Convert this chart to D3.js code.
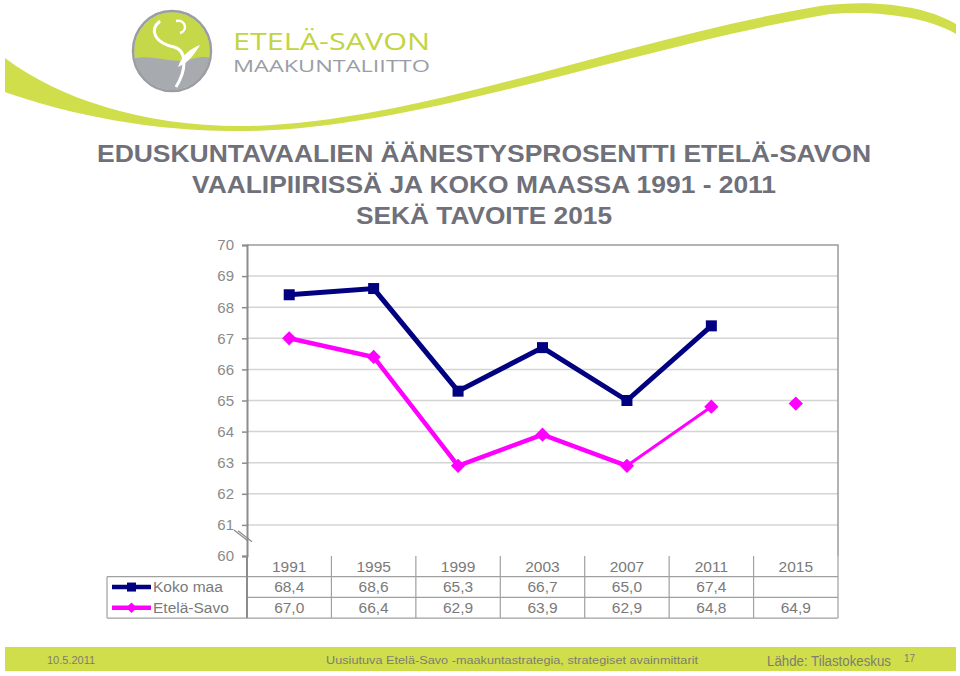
<!DOCTYPE html>
<html>
<head>
<meta charset="utf-8">
<script src="https://cdn.jsdelivr.net/npm/d3@7"></script>
<style>
  body { margin: 0; background: #fff; }
  svg { display: block; font-family: "Liberation Sans", Arial, sans-serif; }
</style>
</head>
<body>
<svg id="slide" width="960" height="676"></svg>
<script>
// data
const years = ["1991", "1995", "1999", "2003", "2007", "2011", "2015"];
const kokoMaa = [68.4, 68.6, 65.3, 66.7, 65.0, 67.4, null];
const etelaSavo = [67.0, 66.4, 62.9, 63.9, 62.9, 64.8, 64.9];
const yTicks = [60, 61, 62, 63, 64, 65, 66, 67, 68, 69, 70];
const seriesNames = ["Koko maa", "Etelä-Savo"];

const fmt = v => v == null ? "" : v.toFixed(1).replace(".", ",");

const green = "#d0de4b";
const svg = d3.select("#slide");

// header swoosh
svg.append("path")
    .attr("d", "M5,58 C60,100 150,128 250,126 C420,122 620,40 820,6 C880,-2 930,8 956,24 L956,34 C930,18 880,10 830,14 C630,48 420,128 250,131 C140,133 50,108 5,92 Z")
    .attr("fill", green);

// logo
const logo = svg.append("g").attr("transform", "translate(172,51)");
logo.append("defs").append("clipPath").attr("id", "oval")
    .append("ellipse").attr("rx", 38).attr("ry", 39);
const inner = logo.append("g").attr("clip-path", "url(#oval)");
inner.append("rect").attr("x", -40).attr("y", -42).attr("width", 80).attr("height", 84).attr("fill", "#c5d84a");
inner.append("path")
    .attr("d", "M-40,8 C-20,2 0,14 20,8 C30,5 36,6 40,8 L40,42 L-40,42 Z")
    .attr("fill", "#a7abb0");
inner.append("path")
    .attr("d", "M-12,-30 C-24,-20 -16,-8 2,-4 C16,0 14,20 4,36")
    .attr("fill", "none").attr("stroke", "#fff").attr("stroke-width", 3);
inner.append("path")
    .attr("d", "M4,-30 C14,-32 16,-20 8,-18")
    .attr("fill", "none").attr("stroke", "#fff").attr("stroke-width", 2.5);
inner.append("path")
    .attr("d", "M6,16 C10,4 18,-2 28,-6 C22,4 16,12 6,16 Z")
    .attr("fill", "#fff");
logo.append("ellipse").attr("rx", 39).attr("ry", 40)
    .attr("fill", "none").attr("stroke", "#9a9ea4").attr("stroke-width", 2.5);

svg.append("text").attr("x", 233).attr("y", 50)
    .attr("font-family", "'Open Sans', sans-serif").attr("font-size", 23)
    .attr("textLength", 197).attr("lengthAdjust", "spacingAndGlyphs")
    .attr("fill", "#c2d43f").text("ETELÄ-SAVON");
svg.append("text").attr("x", 233).attr("y", 72)
    .attr("font-family", "'Open Sans', sans-serif").attr("font-size", 15.5)
    .attr("textLength", 197).attr("lengthAdjust", "spacingAndGlyphs")
    .attr("fill", "#9a9ea4").text("MAAKUNTALIITTO");

// title
const titleLines = [
    { t: "EDUSKUNTAVAALIEN ÄÄNESTYSPROSENTTI ETELÄ-SAVON", y: 162, w: 774 },
    { t: "VAALIPIIRISSÄ JA KOKO MAASSA 1991 - 2011", y: 193, w: 584 },
    { t: "SEKÄ TAVOITE 2015", y: 224, w: 256 }
];
svg.selectAll("text.title").data(titleLines).join("text")
    .attr("class", "title")
    .attr("x", 484).attr("y", d => d.y)
    .attr("text-anchor", "middle")
    .attr("font-size", 24).attr("font-weight", "bold")
    .attr("fill", "#6f7079")
    .attr("textLength", d => d.w).attr("lengthAdjust", "spacingAndGlyphs")
    .text(d => d.t);

// chart
const plot = { left: 247, right: 838, top: 245, bottom: 556 };
const x = d3.scaleBand().domain(years).range([plot.left, plot.right]);
const y = d3.scaleLinear().domain([60, 70]).range([plot.bottom, plot.top]);

const chart = svg.append("g");

chart.selectAll("line.grid").data(yTicks.slice(1, -1)).join("line")
    .attr("class", "grid")
    .attr("x1", plot.left).attr("x2", plot.right)
    .attr("y1", d => y(d)).attr("y2", d => y(d))
    .attr("stroke", "#d4d4d4").attr("stroke-width", 1.5);

// plot frame (top + right)
chart.append("path")
    .attr("d", `M${plot.left},${plot.top}H${plot.right}V${plot.bottom}`)
    .attr("fill", "none").attr("stroke", "#9a9a9a").attr("stroke-width", 1.5);

const yAxis = chart.append("g")
    .attr("transform", `translate(${plot.left},0)`)
    .call(d3.axisLeft(y).tickValues(yTicks).tickSize(5).tickPadding(8).tickFormat(d3.format("d")));
yAxis.select(".domain").attr("stroke", "#8c8c8c").attr("stroke-width", 2);
yAxis.selectAll(".tick line").attr("stroke", "#8c8c8c").attr("stroke-width", 1.5);
yAxis.selectAll(".tick text")
    .attr("font-family", "'Liberation Sans', Arial, sans-serif")
    .attr("font-size", 15).attr("fill", "#8a8a8a");

// axis break marks
[0, 4].forEach(o => {
    chart.append("line")
        .attr("x1", 234 + o).attr("y1", 530 + o * 0.2)
        .attr("x2", 248 + o).attr("y2", 541 + o * 0.2)
        .attr("stroke", "#8c8c8c").attr("stroke-width", 1.2);
});

// lines
const cx = d => x(d) + x.bandwidth() / 2;
const lineGen = d3.line()
    .defined(d => d.v != null)
    .x(d => cx(d.year)).y(d => y(d.v));

const kokoPts = years.map((yr, i) => ({ year: yr, v: kokoMaa[i] }));
const savoPts = years.map((yr, i) => ({ year: yr, v: etelaSavo[i] }));

chart.append("path").datum(kokoPts)
    .attr("d", lineGen).attr("fill", "none")
    .attr("stroke", "#000080").attr("stroke-width", 5).attr("stroke-linejoin", "miter");
chart.selectAll("rect.koko").data(kokoPts.filter(d => d.v != null)).join("rect")
    .attr("class", "koko")
    .attr("x", d => cx(d.year) - 5.5).attr("y", d => y(d.v) - 5.5)
    .attr("width", 11).attr("height", 11).attr("fill", "#000080");

// Etelä-Savo: actual series up to 2007 thick, 2007-2011 thinner, 2015 target alone
chart.append("path").datum(savoPts.slice(0, 5))
    .attr("d", lineGen).attr("fill", "none")
    .attr("stroke", "#ff00ff").attr("stroke-width", 4.5);
chart.append("path").datum(savoPts.slice(4, 6))
    .attr("d", lineGen).attr("fill", "none")
    .attr("stroke", "#ff00ff").attr("stroke-width", 3);
const diamond = d3.symbol().type(d3.symbolDiamond2).size(130);
chart.selectAll("path.savo").data(savoPts).join("path")
    .attr("class", "savo")
    .attr("transform", d => `translate(${cx(d.year)},${y(d.v)})`)
    .attr("d", diamond).attr("fill", "#ff00ff");

// data table
const tbl = { left: 107, top: 556, rowH: 20.7 };
const gridCol = "#a0a0a0";
const table = chart.append("g");
const rows = 3;
// horizontal lines
for (let r = 1; r <= rows; r++) {
    table.append("line")
        .attr("x1", r === 1 ? tbl.left : plot.left).attr("x2", plot.right)
        .attr("y1", tbl.top + r * tbl.rowH).attr("y2", tbl.top + r * tbl.rowH)
        .attr("stroke", gridCol).attr("stroke-width", 1.2);
}
table.select("line:last-child").attr("x1", tbl.left);
table.append("line")
    .attr("x1", tbl.left).attr("x2", tbl.left)
    .attr("y1", tbl.top + tbl.rowH).attr("y2", tbl.top + 3 * tbl.rowH)
    .attr("stroke", gridCol).attr("stroke-width", 1.2);
table.selectAll("line.col").data(years.map(yr => x(yr)).concat([plot.right])).join("line")
    .attr("class", "col")
    .attr("x1", d => d).attr("x2", d => d)
    .attr("y1", tbl.top).attr("y2", tbl.top + 3 * tbl.rowH)
    .attr("stroke", d => d === plot.left ? "#8c8c8c" : gridCol)
    .attr("stroke-width", d => d === plot.left ? 2 : 1.2);

const cellText = "#7a7a7a";
table.selectAll("text.yr").data(years).join("text")
    .attr("class", "yr")
    .attr("x", d => cx(d)).attr("y", tbl.top + 15.5)
    .attr("text-anchor", "middle").attr("font-size", 15.5).attr("fill", cellText)
    .text(d => d);

[kokoMaa, etelaSavo].forEach((vals, r) => {
    const ry = tbl.top + (r + 1) * tbl.rowH;
    table.selectAll(`text.v${r}`).data(vals).join("text")
        .attr("class", `v${r}`)
        .attr("x", (d, i) => cx(years[i])).attr("y", ry + 15.5)
        .attr("text-anchor", "middle").attr("font-size", 15.5).attr("fill", cellText)
        .text(d => fmt(d));
    // legend key
    const col = r === 0 ? "#000080" : "#ff00ff";
    const my = ry + tbl.rowH / 2;
    table.append("line").attr("x1", 112).attr("x2", 151).attr("y1", my).attr("y2", my)
        .attr("stroke", col).attr("stroke-width", 4.5);
    if (r === 0) {
        table.append("rect").attr("x", 127).attr("y", my - 4.5).attr("width", 9).attr("height", 9).attr("fill", col);
    } else {
        table.append("path").attr("transform", `translate(131.5,${my})`)
            .attr("d", d3.symbol().type(d3.symbolDiamond2).size(70)).attr("fill", col);
    }
    table.append("text").attr("x", 153).attr("y", ry + 15.5)
        .attr("font-size", 15.5).attr("fill", cellText).text(seriesNames[r]);
});

// footer bar
svg.append("rect").attr("x", 5).attr("y", 647).attr("width", 951).attr("height", 24).attr("fill", green);
const footer = svg.append("g").attr("fill", "#7d7d70");
footer.append("text").attr("x", 47).attr("y", 664).attr("font-size", 11).text("10.5.2011");
footer.append("text").attr("x", 512).attr("y", 664).attr("font-size", 11.5).attr("text-anchor", "middle")
    .attr("textLength", 372).attr("lengthAdjust", "spacingAndGlyphs")
    .text("Uusiutuva Etelä-Savo -maakuntastrategia, strategiset avainmittarit");
footer.append("text").attr("x", 767).attr("y", 666).attr("font-size", 14)
    .attr("textLength", 124).attr("lengthAdjust", "spacingAndGlyphs")
    .text("Lähde: Tilastokeskus");
footer.append("text").attr("x", 904).attr("y", 662).attr("font-size", 10).text("17");
</script>
</body>
</html>
